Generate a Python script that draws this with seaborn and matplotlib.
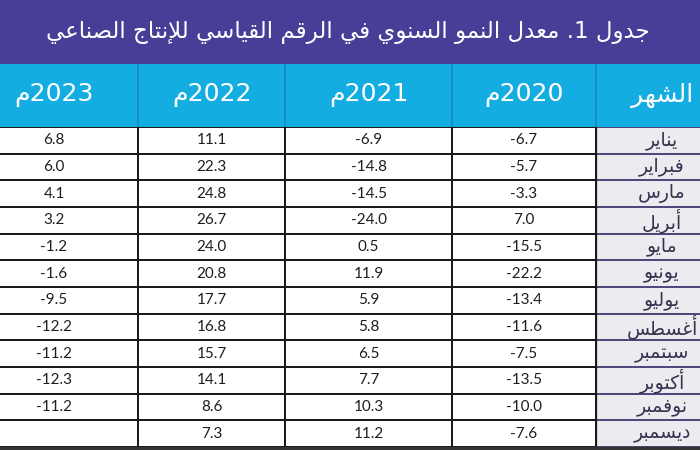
import numpy as np
import pandas as pd
import seaborn as sns
import matplotlib.pyplot as plt
from matplotlib.colors import ListedColormap
from matplotlib.patches import Rectangle

# -------------------------------------------------------------------------
# Table 1: annual growth rate of the industrial production index
# -------------------------------------------------------------------------

title = "جدول 1. معدل النمو السنوي في الرقم القياسي للإنتاج الصناعي"
month_header = "الشهر"
years = ["2023م", "2022م", "2021م", "2020م"]
months = ["يناير", "فبراير", "مارس", "أبريل", "مايو", "يونيو",
          "يوليو", "أغسطس", "سبتمبر", "أكتوبر", "نوفمبر", "ديسمبر"]

y2020 = [-6.7, -5.7, -3.3, 7.0, -15.5, -22.2, -13.4, -11.6, -7.5, -13.5, -10.0, -7.6]
y2021 = [-6.9, -14.8, -14.5, -24.0, 0.5, 11.9, 5.9, 5.8, 6.5, 7.7, 10.3, 11.2]
y2022 = [11.1, 22.3, 24.8, 26.7, 24.0, 20.8, 17.7, 16.8, 15.7, 14.1, 8.6, 7.3]
y2023 = [6.8, 6.0, 4.1, 3.2, -1.2, -1.6, -9.5, -12.2, -11.2, -12.3, -11.2, np.nan]

# --- very small Arabic shaper (matplotlib has no complex text layout) ---
# letter: (isolated, final, initial, medial); None = does not join to the next letter
FORMS = {
    'ا': ('\uFE8D', '\uFE8E', None, None),
    'أ': ('\uFE83', '\uFE84', None, None),
    'إ': ('\uFE87', '\uFE88', None, None),
    'ب': ('\uFE8F', '\uFE90', '\uFE91', '\uFE92'),
    'ت': ('\uFE95', '\uFE96', '\uFE97', '\uFE98'),
    'ج': ('\uFE9D', '\uFE9E', '\uFE9F', '\uFEA0'),
    'د': ('\uFEA9', '\uFEAA', None, None),
    'ر': ('\uFEAD', '\uFEAE', None, None),
    'س': ('\uFEB1', '\uFEB2', '\uFEB3', '\uFEB4'),
    'ش': ('\uFEB5', '\uFEB6', '\uFEB7', '\uFEB8'),
    'ص': ('\uFEB9', '\uFEBA', '\uFEBB', '\uFEBC'),
    'ط': ('\uFEC1', '\uFEC2', '\uFEC3', '\uFEC4'),
    'ع': ('\uFEC9', '\uFECA', '\uFECB', '\uFECC'),
    'غ': ('\uFECD', '\uFECE', '\uFECF', '\uFED0'),
    'ف': ('\uFED1', '\uFED2', '\uFED3', '\uFED4'),
    'ق': ('\uFED5', '\uFED6', '\uFED7', '\uFED8'),
    'ك': ('\uFED9', '\uFEDA', '\uFEDB', '\uFEDC'),
    'ل': ('\uFEDD', '\uFEDE', '\uFEDF', '\uFEE0'),
    'م': ('\uFEE1', '\uFEE2', '\uFEE3', '\uFEE4'),
    'ن': ('\uFEE5', '\uFEE6', '\uFEE7', '\uFEE8'),
    'ه': ('\uFEE9', '\uFEEA', '\uFEEB', '\uFEEC'),
    'و': ('\uFEED', '\uFEEE', None, None),
    'ي': ('\uFEF1', '\uFEF2', '\uFEF3', '\uFEF4'),
}
LAM_ALEF = {'ا': ('\uFEFB', '\uFEFC'), 'أ': ('\uFEF7', '\uFEF8'), 'إ': ('\uFEF9', '\uFEFA')}


def ar(text):
    chars = list(text)
    out = []
    i = 0
    while i < len(chars):
        c = chars[i]
        if c not in FORMS:
            out.append(c)
            i += 1
            continue
        prev = chars[i - 1] if i > 0 else ''
        prev_joins = prev in FORMS and FORMS[prev][2] is not None
        nxt = chars[i + 1] if i + 1 < len(chars) else ''
        if c == 'ل' and nxt in LAM_ALEF:
            out.append(LAM_ALEF[nxt][1 if prev_joins else 0])
            i += 2
            continue
        next_joins = nxt in FORMS and FORMS[c][2] is not None
        iso, fin, ini, med = FORMS[c]
        if prev_joins and next_joins:
            out.append(med)
        elif prev_joins:
            out.append(fin)
        elif next_joins:
            out.append(ini)
        else:
            out.append(iso)
        i += 1
    # visual order: right to left, digit runs stay left to right
    vis = out[::-1]
    res, run = [], []
    for ch in vis:
        if ch.isdigit():
            run.append(ch)
        else:
            res.extend(run[::-1])
            run = []
            res.append(ch)
    res.extend(run[::-1])
    return ''.join(res)


sns.set_theme(style="white")
plt.rcParams['font.family'] = ['DejaVu Sans']

W, H = 700, 450
PURPLE = '#473e98'
CYAN = '#13ade2'
MONTH_BG = '#ebebf0'

fig = plt.figure(figsize=(7, 4.5), dpi=100)


def px_axes(x0, y0, w, h):
    # pixel box measured from the top-left corner
    return fig.add_axes([x0 / W, 1 - (y0 + h) / H, w / W, h / H])


# column edges in pixels (outer table is cropped on both sides)
col_edges = [-30, 138, 285, 452, 596, 728]
top_title, top_head, top_body, bottom = 0, 64, 127, 447

# title band
ax_t = px_axes(0, top_title, W, top_head - top_title)
ax_t.set_facecolor(PURPLE)
ax_t.set_xticks([])
ax_t.set_yticks([])
for s in ax_t.spines.values():
    s.set_visible(False)
ax_t.text(0.497, 0.5, ar(title), transform=ax_t.transAxes, ha='center', va='center',
          color='white', fontsize=16.5)

# header band
ax_h = px_axes(0, top_head, W, top_body - top_head)
ax_h.set_facecolor(CYAN)
ax_h.set_xlim(0, W)
ax_h.set_ylim(0, 1)
ax_h.set_xticks([])
ax_h.set_yticks([])
for s in ax_h.spines.values():
    s.set_visible(False)
for xe in col_edges[1:-1]:
    ax_h.axvline(xe, color='#1a86bd', lw=1.2)
header_labels = [ar(y) for y in years] + [ar(month_header)]
for k, lab in enumerate(header_labels):
    xc = (col_edges[k] + col_edges[k + 1]) / 2
    ax_h.text(xc, 0.5, lab, ha='center', va='center', color='white', fontsize=18)

# body: one heatmap per column (columns have different widths)
columns = [y2023, y2022, y2021, y2020]
for k, vals in enumerate(columns):
    x0, x1 = col_edges[k], col_edges[k + 1]
    ax = px_axes(x0, top_body, x1 - x0, bottom - top_body)
    data = pd.DataFrame({'v': vals}, index=months)
    labels = np.array([['' if np.isnan(v) else f'{v:.1f}'] for v in vals])
    sns.heatmap(data, ax=ax, cmap=ListedColormap(['white']), cbar=False,
                annot=labels, fmt='', linewidths=1.4, linecolor='#1a1a1a',
                xticklabels=False, yticklabels=False,
                annot_kws={'fontsize': 11, 'color': '#1e1e1e', 'family': 'Lato'})
    ax.set_facecolor('white')

x0, x1 = col_edges[4], col_edges[5]
ax_m = px_axes(x0, top_body, x1 - x0, bottom - top_body)
month_idx = pd.DataFrame({'m': np.arange(len(months))}, index=months)
month_labels = np.array([[ar(m)] for m in months])
sns.heatmap(month_idx, ax=ax_m, cmap=ListedColormap([MONTH_BG]), cbar=False,
            annot=month_labels, fmt='', linewidths=1.4, linecolor='#4c4a7c',
            xticklabels=False, yticklabels=False,
            annot_kws={'fontsize': 13.5, 'color': '#33334f'})
# dark separator between last data column and the month column
ax_m.axvline(0, color='#1a1a1a', lw=1.6)

# heavy rule under the table
fig.patches.append(Rectangle((0, 1 - 450 / H), 1, 3.5 / H, transform=fig.transFigure,
                             color='#333333', zorder=10))

fig.savefig('out.png', dpi=100)
